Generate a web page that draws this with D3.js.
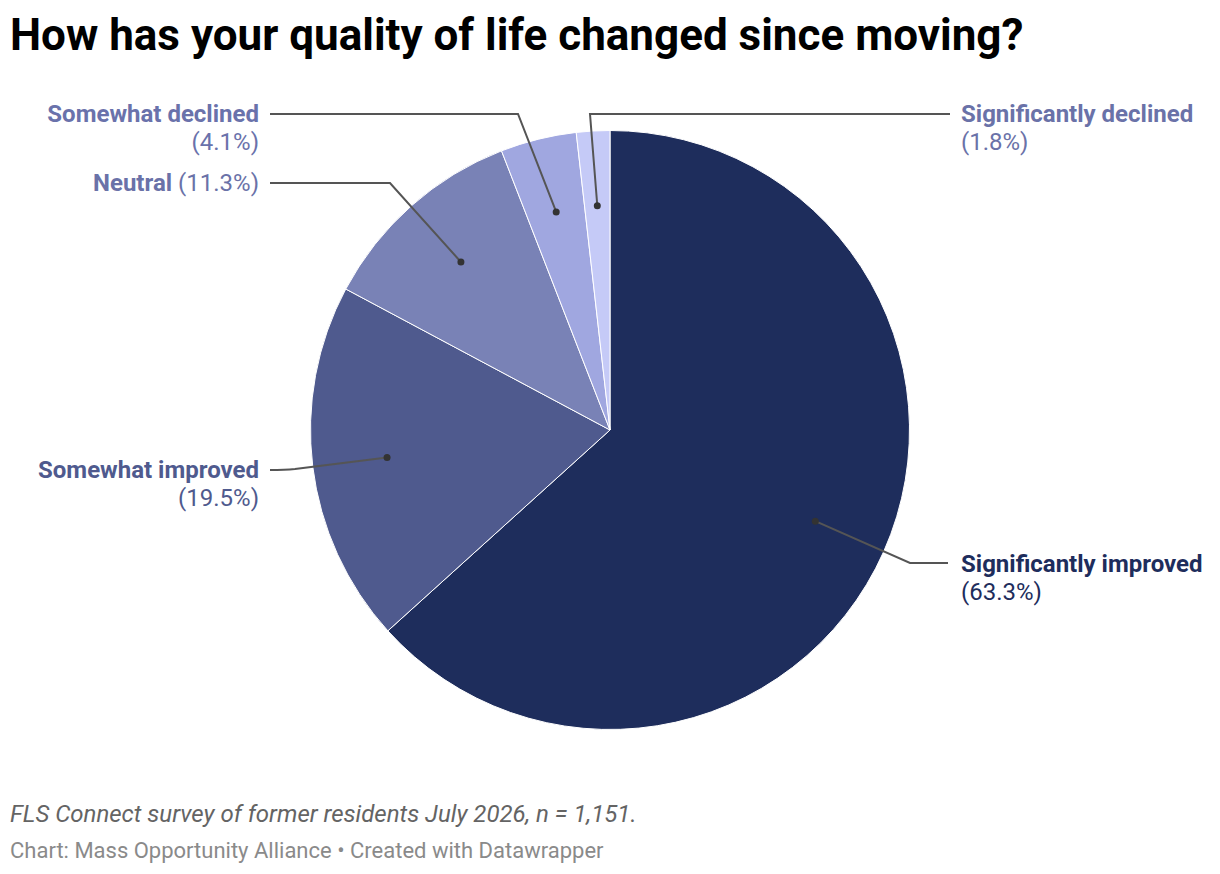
<!DOCTYPE html>
<html>
<head>
<meta charset="utf-8">
<script src="https://cdn.jsdelivr.net/npm/d3@7/dist/d3.min.js"></script>
<style>
  body { margin: 0; background: #fff; font-family: Roboto, sans-serif; }
</style>
</head>
<body>
<div id="chart"></div>
<script>
// data
const categories = ["Significantly improved", "Somewhat improved", "Neutral", "Somewhat declined", "Significantly declined"];
const shares = [63.3, 19.5, 11.3, 4.1, 1.8];
const sliceColors = ["#1e2d5c", "#4f5a8e", "#7982b6", "#a0a7e0", "#c5caf7"];
const labelColors = ["#1e2d5c", "#4f5a8e", "#6a72a8", "#6a72ab", "#6a72a8"];

const title = "How has your quality of life changed since moving?";
const note = "FLS Connect survey of former residents July 2026, n = 1,151.";
const credit = "Chart: Mass Opportunity Alliance • Created with Datawrapper";

// label placement: side, elbow point, line end, label anchor, whether pct goes on same line
const labelLayout = {
  "Significantly improved": {side: "right", elbow: [910, 563], end: 948, tx: 961, ty: 572, inline: false},
  "Somewhat improved": {side: "left", elbow: [285, 469], end: 270, tx: 259, ty: 478, inline: false},
  "Neutral": {side: "left", elbow: [390, 183], end: 270, tx: 259, ty: 191, inline: true},
  "Somewhat declined": {side: "left", elbow: [518, 114], end: 270, tx: 259, ty: 122, inline: false},
  "Significantly declined": {side: "right", elbow: [590, 114], end: 950, tx: 961, ty: 122, inline: false}
};

main();

function main() {
  const width = 1220, height = 874;
  const cx = 610, cy = 430, R = 299.5;

  const svg = d3.select("#chart").append("svg")
    .attr("width", width)
    .attr("height", height);

  svg.append("text")
    .attr("x", 10).attr("y", 50)
    .attr("font-size", 44).attr("font-weight", 700)
    .attr("fill", "#000")
    .text(title);

  const data = categories.map((c, i) => ({name: c, value: shares[i], i: i}));

  const pie = d3.pie().sort(null).value(d => d.value);
  const arcs = pie(data);
  const arc = d3.arc().innerRadius(0).outerRadius(R);
  const dotArc = d3.arc().innerRadius(R * 0.75).outerRadius(R * 0.75);

  const g = svg.append("g").attr("transform", `translate(${cx},${cy})`);

  g.selectAll(".slice")
    .data(arcs)
    .enter()
    .append("path")
    .attr("class", "slice")
    .attr("d", arc)
    .attr("fill", d => sliceColors[d.data.i])
    .attr("stroke", "#fff")
    .attr("stroke-width", 1);

  // leader lines
  const lines = svg.append("g");
  arcs.forEach(d => {
    const lay = labelLayout[d.data.name];
    const c = dotArc.centroid(d);
    const dx = cx + c[0], dy = cy + c[1];
    let path;
    if (d.data.name === "Somewhat improved") {
      path = `M${dx},${dy} L${lay.elbow[0] + 10},${lay.elbow[1]} Q${lay.elbow[0]},${lay.elbow[1] + 1} ${lay.end},${lay.elbow[1] + 1}`;
    } else {
      path = `M${dx},${dy} L${lay.elbow[0]},${lay.elbow[1]} L${lay.end},${lay.elbow[1]}`;
    }
    lines.append("path")
      .attr("d", path)
      .attr("fill", "none")
      .attr("stroke", "#555")
      .attr("stroke-width", 2);
    lines.append("circle")
      .attr("cx", dx).attr("cy", dy)
      .attr("r", 3.5)
      .attr("fill", "#333");
  });

  // labels
  const labels = svg.append("g").attr("font-size", 24);
  arcs.forEach(d => {
    const lay = labelLayout[d.data.name];
    const col = labelColors[d.data.i];
    const anchor = lay.side === "left" ? "end" : "start";
    const pct = "(" + d3.format(".1f")(d.data.value) + "%)";
    const t = labels.append("text")
      .attr("x", lay.tx).attr("y", lay.ty)
      .attr("text-anchor", anchor)
      .attr("fill", col);
    if (lay.inline) {
      t.append("tspan").attr("font-weight", 700).text(d.data.name);
      t.append("tspan").attr("font-weight", 400).text(" " + pct);
    } else {
      t.append("tspan").attr("font-weight", 700).text(d.data.name);
      labels.append("text")
        .attr("x", lay.tx).attr("y", lay.ty + 28)
        .attr("text-anchor", anchor)
        .attr("fill", col)
        .text(pct);
    }
  });

  svg.append("text")
    .attr("x", 10).attr("y", 822)
    .attr("font-size", 24).attr("font-style", "italic")
    .attr("fill", "#646464")
    .text(note);

  svg.append("text")
    .attr("x", 10).attr("y", 858)
    .attr("font-size", 22)
    .attr("fill", "#8a8a8a")
    .text(credit);
}
</script>
</body>
</html>
